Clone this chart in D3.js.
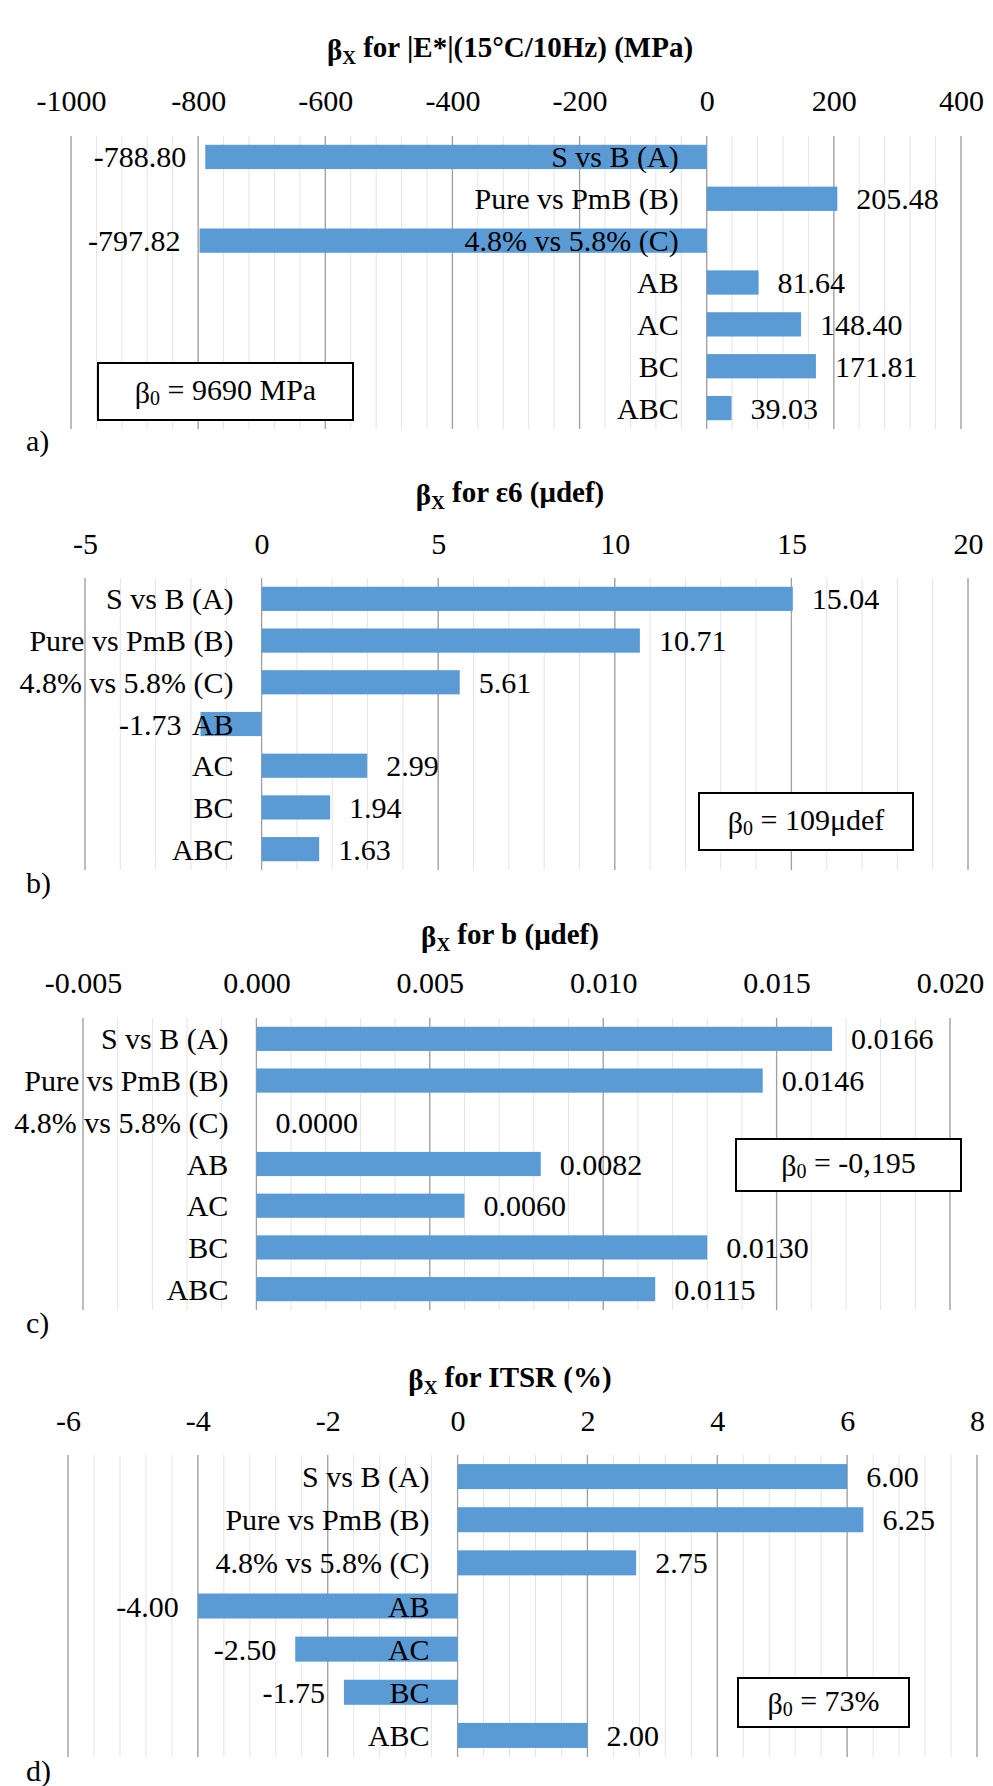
<!DOCTYPE html>
<html>
<head>
<meta charset="utf-8">
<script src="https://cdn.jsdelivr.net/npm/d3@7"></script>
<style>
  html, body { margin: 0; padding: 0; background: #fff; }
  svg text { font-family: "Liberation Serif", "Times New Roman", serif; fill: #000; }
</style>
</head>
<body>
<svg id="chart" width="993" height="1786"></svg>
<script>
// ---------------- DATA ----------------
const categories = ["S vs B (A)", "Pure vs PmB (B)", "4.8% vs 5.8% (C)", "AB", "AC", "BC", "ABC"];

const valuesE    = [-788.80, 205.48, -797.82, 81.64, 148.40, 171.81, 39.03];
const valuesEps  = [15.04, 10.71, 5.61, -1.73, 2.99, 1.94, 1.63];
const valuesB    = [0.0166, 0.0146, 0.0000, 0.0082, 0.0060, 0.0130, 0.0115];
const valuesITSR = [6.00, 6.25, 2.75, -4.00, -2.50, -1.75, 2.00];

const ticksE    = [-1000, -800, -600, -400, -200, 0, 200, 400];
const ticksEps  = [-5, 0, 5, 10, 15, 20];
const ticksB    = [-0.005, 0.000, 0.005, 0.010, 0.015, 0.020];
const ticksITSR = [-6, -4, -2, 0, 2, 4, 6, 8];

const titlesRest = [" for |E*|(15°C/10Hz) (MPa)", " for ε6 (μdef)", " for b (μdef)", " for ITSR (%)"];
const interceptTexts = [" = 9690 MPa", " = 109μdef", " = -0,195", " = 73%"];
const panelLetters = ["a)", "b)", "c)", "d)"];

// ---------------- LAYOUT ----------------
const loc = d3.formatLocale({decimal: ".", thousands: ",", grouping: [3], currency: ["", ""], minus: "-"});

const panels = [
  {values: valuesE,    ticks: ticksE,    xr: [71, 961], yr: [136, 429],   titleY: 50,   tickY: 100,  letterY: 440,  box: [98, 363, 255, 57],  tf: "d",   vf: ".2f"},
  {values: valuesEps,  ticks: ticksEps,  xr: [85, 968], yr: [578, 870],   titleY: 495,  tickY: 543,  letterY: 882,  box: [699, 793, 214, 57], tf: "d",   vf: ".2f"},
  {values: valuesB,    ticks: ticksB,    xr: [83, 950], yr: [1018, 1310], titleY: 937,  tickY: 982,  letterY: 1322, box: [736, 1139, 225, 52], tf: ".3f", vf: ".4f"},
  {values: valuesITSR, ticks: ticksITSR, xr: [68, 977], yr: [1455, 1757], titleY: 1380, tickY: 1420, letterY: 1770, box: [738, 1678, 171, 49], tf: "d",   vf: ".2f"}
];

const svg = d3.select("#chart");
const FS = 30;
const barColor = "#5b9bd5";
const catGap = 28, valGap = 19;

panels.forEach((p, i) => {
  const g = svg.append("g");
  const ticks = p.ticks;
  const x = d3.scaleLinear().domain([ticks[0], ticks[ticks.length - 1]]).range(p.xr);
  const y = d3.scaleBand().domain(categories).range(p.yr).paddingInner(0.42).paddingOuter(0.21);

  // minor gridlines (5 subdivisions per major interval)
  const step = ticks[1] - ticks[0];
  const minor = d3.range(0, (ticks.length - 1) * 5 + 1).map(k => ticks[0] + k * step / 5);
  g.append("g").selectAll("line").data(minor).join("line")
    .attr("x1", d => x(d)).attr("x2", d => x(d))
    .attr("y1", p.yr[0]).attr("y2", p.yr[1])
    .attr("stroke", "#e4e4e4").attr("stroke-width", 1);

  // major gridlines
  g.append("g").selectAll("line").data(ticks).join("line")
    .attr("x1", d => x(d)).attr("x2", d => x(d))
    .attr("y1", p.yr[0]).attr("y2", p.yr[1])
    .attr("stroke", "#a0a0a0").attr("stroke-width", 1.3);

  // tick labels (top axis)
  const ax = g.append("g").attr("transform", `translate(0,${p.tickY})`)
    .call(d3.axisTop(x).tickValues(ticks).tickSize(0).tickPadding(0).tickFormat(loc.format(p.tf)));
  ax.select(".domain").remove();
  ax.selectAll("text")
    .attr("font-family", "Liberation Serif, Times New Roman, serif")
    .attr("font-size", FS).attr("fill", "#000")
    .attr("dy", "0.35em");

  // title
  const t = g.append("text").attr("x", 510).attr("y", p.titleY)
    .attr("text-anchor", "middle").attr("font-weight", "bold").attr("font-size", 29)
    .attr("dominant-baseline", "central");
  t.append("tspan").text("β");
  t.append("tspan").attr("font-size", 19).attr("dy", "0.35em").text("X");
  t.append("tspan").attr("dy", "-0.35em").text(titlesRest[i]);

  // bars
  const data = categories.map((c, k) => ({c, v: p.values[k]}));
  g.append("g").selectAll("rect").data(data).join("rect")
    .attr("x", d => x(Math.min(0, d.v)))
    .attr("width", d => Math.abs(x(d.v) - x(0)))
    .attr("y", d => y(d.c))
    .attr("height", y.bandwidth())
    .attr("fill", barColor);

  // category labels at zero
  g.append("g").selectAll("text").data(data).join("text")
    .attr("x", x(0) - catGap)
    .attr("y", d => y(d.c) + y.bandwidth() / 2)
    .attr("dy", "0.35em")
    .attr("text-anchor", "end")
    .attr("font-size", FS)
    .text(d => d.c);

  // value labels
  const vfmt = loc.format(p.vf);
  g.append("g").selectAll("text").data(data).join("text")
    .attr("x", d => d.v < 0 ? x(d.v) - valGap : x(d.v) + valGap)
    .attr("y", d => y(d.c) + y.bandwidth() / 2)
    .attr("dy", "0.35em")
    .attr("text-anchor", d => d.v < 0 ? "end" : "start")
    .attr("font-size", FS)
    .text(d => vfmt(d.v));

  // intercept box
  const [bx, by, bw, bh] = p.box;
  g.append("rect").attr("x", bx).attr("y", by).attr("width", bw).attr("height", bh)
    .attr("fill", "#fff").attr("stroke", "#000").attr("stroke-width", 2);
  const bt = g.append("text").attr("x", bx + bw / 2).attr("y", by + bh / 2)
    .attr("text-anchor", "middle").attr("dominant-baseline", "central").attr("font-size", FS);
  bt.append("tspan").text("β");
  bt.append("tspan").attr("font-size", 20).attr("dy", "0.3em").text("0");
  bt.append("tspan").attr("dy", "-0.3em").text(interceptTexts[i]);

  // panel letter
  g.append("text").attr("x", 26).attr("y", p.letterY)
    .attr("dy", "0.35em").attr("font-size", FS).text(panelLetters[i]);
});
</script>
</body>
</html>
